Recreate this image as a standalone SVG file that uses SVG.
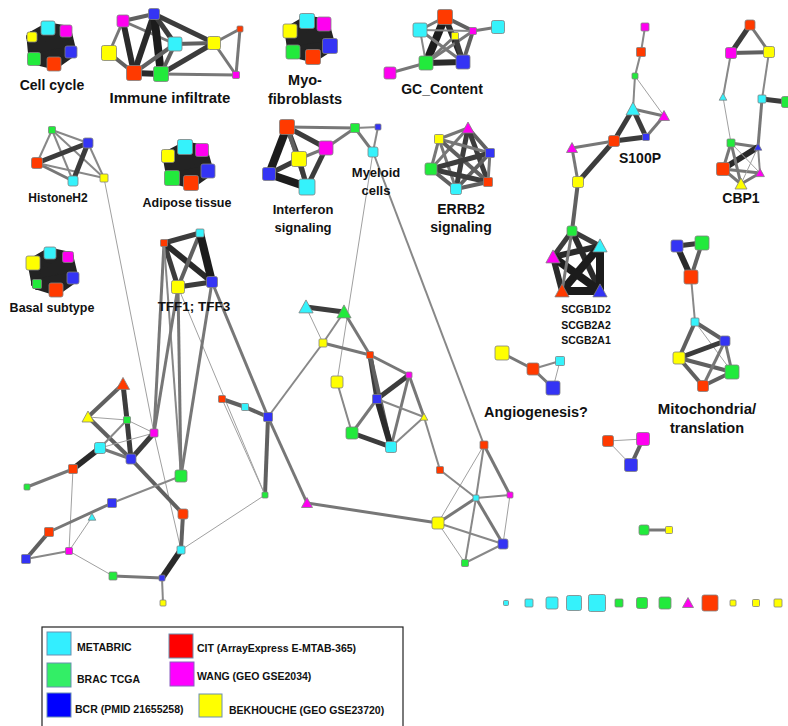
<svg xmlns="http://www.w3.org/2000/svg" width="788" height="726" viewBox="0 0 788 726">
<style>
.e1{stroke:#a0a0a0;stroke-width:1}
.e2{stroke:#888;stroke-width:2}
.e3{stroke:#777;stroke-width:3}
.e4{stroke:#606060;stroke-width:4}
.e5{stroke:#3c3c3c;stroke-width:5}
.e6{stroke:#2a2a2a;stroke-width:6}
.e8{stroke:#1c1c1c;stroke-width:8}
.bk{stroke:#232323;stroke-width:11;stroke-linecap:round}
.n{stroke:#808080;stroke-width:0.8}
.cy{fill:#35f2fb}.gr{fill:#22ea3c}.bl{fill:#3434f4}.rd{fill:#ff3a00}.mg{fill:#ff00f0}.ye{fill:#ffff00}
.lb{font-family:"Liberation Sans",Arial,sans-serif;font-weight:bold;fill:#111;text-anchor:middle}
.lg{font-family:"Liberation Sans",Arial,sans-serif;font-weight:bold;fill:#111;font-size:10.5px}
</style>
<rect width="788" height="726" fill="#fff"/>
<g id="connectors" fill="none">
<!-- cell cycle blob -->
<line class="bk" x1="32" y1="37" x2="48" y2="28"/><line class="bk" x1="32" y1="37" x2="66" y2="31"/><line class="bk" x1="32" y1="37" x2="71" y2="52"/><line class="bk" x1="32" y1="37" x2="54" y2="64"/><line class="bk" x1="32" y1="37" x2="34" y2="59"/>
<line class="bk" x1="48" y1="28" x2="66" y2="31"/><line class="bk" x1="48" y1="28" x2="71" y2="52"/><line class="bk" x1="48" y1="28" x2="54" y2="64"/><line class="bk" x1="48" y1="28" x2="34" y2="59"/>
<line class="bk" x1="66" y1="31" x2="71" y2="52"/><line class="bk" x1="66" y1="31" x2="54" y2="64"/><line class="bk" x1="66" y1="31" x2="34" y2="59"/>
<line class="bk" x1="71" y1="52" x2="54" y2="64"/><line class="bk" x1="71" y1="52" x2="34" y2="59"/><line class="bk" x1="54" y1="64" x2="34" y2="59"/>
<!-- immune -->
<line class="e4" x1="123" y1="21" x2="154" y2="14"/><line class="e3" x1="123" y1="21" x2="109" y2="53"/><line class="e6" x1="123" y1="21" x2="134" y2="73"/><line class="e3" x1="123" y1="21" x2="175" y2="44"/>
<line class="e6" x1="154" y1="14" x2="134" y2="73"/><line class="e8" x1="154" y1="14" x2="161" y2="74"/><line class="e5" x1="154" y1="14" x2="175" y2="44"/><line class="e5" x1="154" y1="14" x2="214" y2="43"/>
<line class="e4" x1="109" y1="53" x2="134" y2="73"/><line class="e6" x1="134" y1="73" x2="161" y2="74"/><line class="e4" x1="134" y1="73" x2="175" y2="44"/><line class="e4" x1="161" y1="74" x2="175" y2="44"/>
<line class="e4" x1="175" y1="44" x2="214" y2="43"/><line class="e5" x1="161" y1="74" x2="214" y2="43"/><line class="e3" x1="161" y1="74" x2="236" y2="75"/><line class="e3" x1="214" y1="43" x2="240" y2="29"/><line class="e3" x1="240" y1="29" x2="236" y2="75"/><line class="e3" x1="214" y1="43" x2="236" y2="75"/>
<!-- myo blob -->
<line class="bk" x1="290" y1="31" x2="307" y2="21"/><line class="bk" x1="290" y1="31" x2="324" y2="24"/><line class="bk" x1="290" y1="31" x2="330" y2="46"/><line class="bk" x1="290" y1="31" x2="313" y2="57"/><line class="bk" x1="290" y1="31" x2="293" y2="52"/>
<line class="bk" x1="307" y1="21" x2="324" y2="24"/><line class="bk" x1="307" y1="21" x2="330" y2="46"/><line class="bk" x1="307" y1="21" x2="313" y2="57"/><line class="bk" x1="307" y1="21" x2="293" y2="52"/>
<line class="bk" x1="324" y1="24" x2="330" y2="46"/><line class="bk" x1="324" y1="24" x2="313" y2="57"/><line class="bk" x1="324" y1="24" x2="293" y2="52"/>
<line class="bk" x1="330" y1="46" x2="313" y2="57"/><line class="bk" x1="330" y1="46" x2="293" y2="52"/><line class="bk" x1="313" y1="57" x2="293" y2="52"/>
<!-- GC content -->
<line class="e8" x1="445" y1="17" x2="426" y2="63"/><line class="e6" x1="445" y1="17" x2="463" y2="62"/><line class="e6" x1="426" y1="63" x2="463" y2="62"/><line class="e3" x1="445" y1="17" x2="420" y2="30"/><line class="e4" x1="445" y1="17" x2="473" y2="31"/>
<line class="e2" x1="420" y1="30" x2="426" y2="63"/><line class="e3" x1="420" y1="30" x2="463" y2="62"/><line class="e2" x1="420" y1="30" x2="473" y2="31"/><line class="e3" x1="426" y1="63" x2="473" y2="31"/><line class="e4" x1="463" y1="62" x2="473" y2="31"/>
<line class="e3" x1="455" y1="36" x2="426" y2="63"/><line class="e5" x1="455" y1="36" x2="463" y2="62"/><line class="e3" x1="473" y1="31" x2="498" y2="27"/><line class="e3" x1="390" y1="73" x2="426" y2="63"/>
<!-- S100P -->
<line class="e2" x1="645" y1="27" x2="641" y2="52"/><line class="e2" x1="641" y1="52" x2="635" y2="76"/><line class="e2" x1="635" y1="76" x2="633" y2="109"/><line class="e1" x1="635" y1="76" x2="664" y2="116"/>
<line class="e3" x1="633" y1="109" x2="664" y2="116"/><line class="e5" x1="633" y1="109" x2="646" y2="137"/><line class="e3" x1="664" y1="116" x2="646" y2="137"/><line class="e5" x1="633" y1="109" x2="614" y2="141"/>
<line class="e5" x1="614" y1="141" x2="646" y2="137"/><line class="e3" x1="614" y1="141" x2="572" y2="148"/><line class="e5" x1="614" y1="141" x2="578" y2="182"/><line class="e3" x1="572" y1="148" x2="578" y2="182"/><line class="e4" x1="578" y1="182" x2="572" y2="231"/>
<!-- CBP1 -->
<line class="e5" x1="750" y1="25" x2="731" y2="53"/><line class="e3" x1="750" y1="25" x2="769" y2="52"/><line class="e4" x1="731" y1="53" x2="769" y2="52"/><line class="e2" x1="731" y1="53" x2="723" y2="97"/><line class="e2" x1="769" y1="52" x2="762" y2="99"/>
<line class="e5" x1="762" y1="99" x2="787" y2="102"/><line class="e1" x1="723" y1="97" x2="731" y2="143"/><line class="e3" x1="762" y1="99" x2="758" y2="147"/><line class="e3" x1="731" y1="143" x2="758" y2="147"/><line class="e3" x1="731" y1="143" x2="723" y2="169"/>
<line class="e6" x1="758" y1="147" x2="723" y2="169"/><line class="e1" x1="731" y1="143" x2="760" y2="173"/><line class="e3" x1="731" y1="143" x2="741" y2="184"/><line class="e3" x1="723" y1="169" x2="760" y2="173"/><line class="e3" x1="723" y1="169" x2="741" y2="184"/>
<line class="e2" x1="758" y1="147" x2="760" y2="173"/><line class="e1" x1="758" y1="147" x2="741" y2="184"/><line class="e3" x1="760" y1="173" x2="741" y2="184"/>
<!-- HistoneH2 -->
<line class="e2" x1="52" y1="130" x2="88" y2="143"/><line class="e2" x1="52" y1="130" x2="37" y2="163"/><line class="e2" x1="52" y1="130" x2="73" y2="181"/><line class="e2" x1="52" y1="130" x2="104" y2="178"/>
<line class="e5" x1="37" y1="163" x2="88" y2="143"/><line class="e3" x1="37" y1="163" x2="73" y2="181"/><line class="e2" x1="37" y1="163" x2="104" y2="178"/><line class="e5" x1="88" y1="143" x2="73" y2="181"/><line class="e2" x1="88" y1="143" x2="104" y2="178"/>
<line class="e1" x1="104" y1="178" x2="154" y2="433"/>
<!-- adipose blob -->
<line class="bk" x1="168" y1="156" x2="185" y2="147"/><line class="bk" x1="168" y1="156" x2="202" y2="150"/><line class="bk" x1="168" y1="156" x2="208" y2="171"/><line class="bk" x1="168" y1="156" x2="191" y2="183"/><line class="bk" x1="168" y1="156" x2="172" y2="178"/>
<line class="bk" x1="185" y1="147" x2="202" y2="150"/><line class="bk" x1="185" y1="147" x2="208" y2="171"/><line class="bk" x1="185" y1="147" x2="191" y2="183"/><line class="bk" x1="185" y1="147" x2="172" y2="178"/>
<line class="bk" x1="202" y1="150" x2="208" y2="171"/><line class="bk" x1="202" y1="150" x2="191" y2="183"/><line class="bk" x1="202" y1="150" x2="172" y2="178"/>
<line class="bk" x1="208" y1="171" x2="191" y2="183"/><line class="bk" x1="208" y1="171" x2="172" y2="178"/><line class="bk" x1="191" y1="183" x2="172" y2="178"/>
<!-- basal blob -->
<line class="bk" x1="50" y1="253" x2="33" y2="263"/><line class="bk" x1="50" y1="253" x2="68" y2="257"/><line class="bk" x1="50" y1="253" x2="73" y2="278"/><line class="bk" x1="50" y1="253" x2="56" y2="290"/><line class="bk" x1="50" y1="253" x2="37" y2="284"/>
<line class="bk" x1="33" y1="263" x2="68" y2="257"/><line class="bk" x1="33" y1="263" x2="73" y2="278"/><line class="bk" x1="33" y1="263" x2="56" y2="290"/><line class="bk" x1="33" y1="263" x2="37" y2="284"/>
<line class="bk" x1="68" y1="257" x2="73" y2="278"/><line class="bk" x1="68" y1="257" x2="56" y2="290"/><line class="bk" x1="68" y1="257" x2="37" y2="284"/>
<line class="bk" x1="73" y1="278" x2="56" y2="290"/><line class="bk" x1="73" y1="278" x2="37" y2="284"/><line class="bk" x1="56" y1="290" x2="37" y2="284"/>
<!-- TFF -->
<line class="e5" x1="164" y1="243" x2="200" y2="233"/><line class="e5" x1="164" y1="243" x2="178" y2="287"/><line class="e6" x1="164" y1="243" x2="212" y2="282"/><line class="e4" x1="200" y1="233" x2="178" y2="287"/><line class="e8" x1="200" y1="233" x2="212" y2="282"/><line class="e5" x1="178" y1="287" x2="212" y2="282"/>
<line class="e3" x1="164" y1="243" x2="154" y2="433"/><line class="e2" x1="164" y1="243" x2="181" y2="476"/><line class="e3" x1="178" y1="287" x2="154" y2="433"/><line class="e3" x1="178" y1="287" x2="181" y2="476"/><line class="e1" x1="178" y1="287" x2="265" y2="495"/><line class="e3" x1="212" y1="282" x2="181" y2="476"/><line class="e3" x1="212" y1="282" x2="268" y2="417"/>
<!-- interferon / myeloid -->
<line class="e5" x1="287" y1="127" x2="299" y2="159"/><line class="e5" x1="287" y1="127" x2="326" y2="148"/><line class="e8" x1="287" y1="127" x2="269" y2="174"/><line class="e4" x1="287" y1="127" x2="307" y2="187"/>
<line class="e3" x1="299" y1="159" x2="326" y2="148"/><line class="e5" x1="299" y1="159" x2="269" y2="174"/><line class="e5" x1="299" y1="159" x2="307" y2="187"/><line class="e5" x1="326" y1="148" x2="307" y2="187"/><line class="e8" x1="269" y1="174" x2="307" y2="187"/>
<line class="e3" x1="287" y1="127" x2="355" y2="128"/><line class="e3" x1="326" y1="148" x2="355" y2="128"/><line class="e2" x1="355" y1="128" x2="378" y2="127"/><line class="e3" x1="355" y1="128" x2="373" y2="152"/><line class="e2" x1="378" y1="127" x2="373" y2="152"/>
<line class="e1" x1="373" y1="152" x2="337" y2="382"/><line class="e2" x1="373" y1="152" x2="484" y2="445"/>
<!-- ERRB2 -->
<line class="e3" x1="468" y1="128" x2="439" y2="139"/><line class="e4" x1="468" y1="128" x2="490" y2="153"/><line class="e3" x1="468" y1="128" x2="431" y2="169"/><line class="e5" x1="468" y1="128" x2="488" y2="182"/><line class="e5" x1="468" y1="128" x2="456" y2="189"/>
<line class="e3" x1="439" y1="139" x2="490" y2="153"/><line class="e3" x1="439" y1="139" x2="431" y2="169"/><line class="e4" x1="439" y1="139" x2="488" y2="182"/><line class="e3" x1="439" y1="139" x2="456" y2="189"/>
<line class="e5" x1="490" y1="153" x2="431" y2="169"/><line class="e3" x1="490" y1="153" x2="488" y2="182"/><line class="e4" x1="490" y1="153" x2="456" y2="189"/><line class="e5" x1="431" y1="169" x2="488" y2="182"/><line class="e4" x1="431" y1="169" x2="456" y2="189"/><line class="e4" x1="488" y1="182" x2="456" y2="189"/>
<!-- SCGB -->
<line class="e5" x1="572" y1="231" x2="600" y2="246"/><line class="e5" x1="572" y1="231" x2="553" y2="257"/><line class="e6" x1="572" y1="231" x2="600" y2="291"/><line class="e6" x1="600" y1="246" x2="553" y2="257"/>
<line class="e8" x1="600" y1="246" x2="562" y2="291"/><line class="e8" x1="600" y1="246" x2="600" y2="291"/><line class="e6" x1="553" y1="257" x2="562" y2="291"/><line class="e8" x1="553" y1="257" x2="600" y2="291"/><line class="e8" x1="562" y1="291" x2="600" y2="291"/>
<line class="e3" x1="572" y1="231" x2="562" y2="291"/>
<!-- mito -->
<line class="e5" x1="677" y1="246" x2="702" y2="243"/><line class="e6" x1="677" y1="246" x2="691" y2="277"/><line class="e4" x1="702" y1="243" x2="691" y2="277"/><line class="e2" x1="691" y1="277" x2="695" y2="322"/>
<line class="e4" x1="695" y1="322" x2="725" y2="341"/><line class="e4" x1="695" y1="322" x2="679" y2="358"/><line class="e1" x1="695" y1="322" x2="732" y2="372"/><line class="e5" x1="679" y1="358" x2="725" y2="341"/><line class="e4" x1="679" y1="358" x2="732" y2="372"/>
<line class="e4" x1="679" y1="358" x2="703" y2="386"/><line class="e3" x1="725" y1="341" x2="703" y2="386"/><line class="e3" x1="725" y1="341" x2="732" y2="372"/><line class="e4" x1="732" y1="372" x2="703" y2="386"/>
<!-- angiogenesis -->
<line class="e3" x1="502" y1="353" x2="533" y2="369"/><line class="e2" x1="533" y1="369" x2="560" y2="361"/><line class="e3" x1="533" y1="369" x2="553" y2="388"/><line class="e1" x1="560" y1="361" x2="553" y2="388"/>
<!-- triad / pair -->
<line class="e1" x1="608" y1="441" x2="643" y2="439"/><line class="e1" x1="608" y1="441" x2="631" y2="465"/><line class="e4" x1="643" y1="439" x2="631" y2="465"/>
<line class="e3" x1="644" y1="530" x2="669" y2="530"/>
<!-- middle -->
<line class="e5" x1="306" y1="307" x2="344" y2="312"/><line class="e1" x1="306" y1="307" x2="323" y2="343"/><line class="e2" x1="344" y1="312" x2="323" y2="343"/><line class="e3" x1="344" y1="312" x2="370" y2="355"/><line class="e3" x1="323" y1="343" x2="370" y2="355"/>
<line class="e3" x1="370" y1="355" x2="409" y2="375"/><line class="e5" x1="370" y1="355" x2="377" y2="399"/><line class="e4" x1="370" y1="355" x2="391" y2="447"/><line class="e5" x1="409" y1="375" x2="377" y2="399"/><line class="e3" x1="409" y1="375" x2="391" y2="447"/>
<line class="e3" x1="409" y1="375" x2="424" y2="417"/><line class="e2" x1="377" y1="399" x2="424" y2="417"/><line class="e3" x1="377" y1="399" x2="352" y2="433"/><line class="e6" x1="377" y1="399" x2="391" y2="447"/><line class="e5" x1="352" y1="433" x2="391" y2="447"/>
<line class="e2" x1="337" y1="382" x2="352" y2="433"/><line class="e2" x1="391" y1="447" x2="424" y2="417"/><line class="e2" x1="424" y1="417" x2="440" y2="470"/>
<line class="e2" x1="323" y1="343" x2="268" y2="417"/><line class="e3" x1="307" y1="503" x2="268" y2="417"/><line class="e3" x1="307" y1="503" x2="438" y2="523"/>
<!-- bottom right -->
<line class="e2" x1="484" y1="445" x2="476" y2="498"/><line class="e3" x1="484" y1="445" x2="510" y2="495"/><line class="e1" x1="484" y1="445" x2="438" y2="523"/><line class="e2" x1="476" y1="498" x2="510" y2="495"/>
<line class="e3" x1="476" y1="498" x2="438" y2="523"/><line class="e3" x1="476" y1="498" x2="503" y2="544"/><line class="e2" x1="476" y1="498" x2="465" y2="563"/><line class="e2" x1="476" y1="498" x2="440" y2="470"/>
<line class="e2" x1="438" y1="523" x2="503" y2="544"/><line class="e1" x1="438" y1="523" x2="465" y2="563"/><line class="e2" x1="503" y1="544" x2="465" y2="563"/><line class="e1" x1="510" y1="495" x2="503" y2="544"/>
<!-- bottom left -->
<line class="e4" x1="123" y1="384" x2="88" y2="417"/><line class="e5" x1="123" y1="384" x2="127" y2="420"/><line class="e5" x1="127" y1="420" x2="131" y2="459"/><line class="e1" x1="88" y1="417" x2="127" y2="420"/><line class="e4" x1="88" y1="417" x2="131" y2="459"/>
<line class="e1" x1="127" y1="420" x2="154" y2="433"/><line class="e2" x1="127" y1="420" x2="100" y2="448"/><line class="e1" x1="100" y1="448" x2="154" y2="433"/><line class="e3" x1="100" y1="448" x2="131" y2="459"/><line class="e6" x1="100" y1="448" x2="73" y2="469"/>
<line class="e3" x1="73" y1="469" x2="27" y2="487"/><line class="e1" x1="73" y1="469" x2="69" y2="551"/><line class="e5" x1="154" y1="433" x2="131" y2="459"/><line class="e1" x1="154" y1="433" x2="181" y2="550"/>
<line class="e4" x1="131" y1="459" x2="183" y2="514"/><line class="e4" x1="183" y1="514" x2="181" y2="550"/><line class="e6" x1="181" y1="550" x2="162" y2="578"/><line class="e2" x1="162" y1="578" x2="163" y2="603"/><line class="e3" x1="162" y1="578" x2="113" y2="576"/>
<line class="e1" x1="113" y1="576" x2="69" y2="551"/><line class="e2" x1="69" y1="551" x2="26" y2="559"/><line class="e4" x1="26" y1="559" x2="49" y2="532"/><line class="e3" x1="49" y1="532" x2="112" y2="503"/><line class="e2" x1="112" y1="503" x2="181" y2="476"/>
<line class="e1" x1="92" y1="517" x2="69" y2="551"/><line class="e1" x1="181" y1="550" x2="265" y2="495"/><line class="e4" x1="222" y1="399" x2="245" y2="407"/><line class="e4" x1="245" y1="407" x2="268" y2="417"/><line class="e4" x1="268" y1="417" x2="265" y2="495"/><line class="e1" x1="222" y1="399" x2="265" y2="495"/>
</g>
<g id="nodes">
<g id="cc1"><rect class="n ye" x="27" y="32" width="10" height="10" rx="2"/></g>
<g id="cc2"><rect class="n cy" x="41" y="21" width="14" height="14" rx="2"/></g>
<g id="cc3"><rect class="n mg" x="60" y="25" width="12" height="12" rx="2"/></g>
<g id="cc4"><rect class="n bl" x="65" y="46" width="12" height="12" rx="2"/></g>
<g id="cc5"><rect class="n rd" x="47" y="57" width="14" height="14" rx="2"/></g>
<g id="cc6"><rect class="n gr" x="27.5" y="52.5" width="13" height="13" rx="2"/></g>
<g id="im1"><rect class="n mg" x="117" y="15" width="12" height="12" rx="2"/></g>
<g id="im2"><rect class="n bl" x="148.5" y="8.5" width="11" height="11" rx="2"/></g>
<g id="im3"><rect class="n cy" x="168" y="37" width="14" height="14" rx="2"/></g>
<g id="im4"><rect class="n ye" x="101.5" y="45.5" width="15" height="15" rx="2"/></g>
<g id="im5"><rect class="n rd" x="126.5" y="65.5" width="15" height="15" rx="2"/></g>
<g id="im6"><rect class="n gr" x="153.5" y="66.5" width="15" height="15" rx="2"/></g>
<g id="im7"><rect class="n ye" x="207.5" y="36.5" width="13" height="13" rx="2"/></g>
<g id="im8"><rect class="n rd" x="237" y="26" width="6" height="6" rx="1"/></g>
<g id="im9"><rect class="n mg" x="232.5" y="71.5" width="7" height="7" rx="1"/></g>
<g id="my1"><rect class="n ye" x="283" y="24" width="14" height="14" rx="2"/></g>
<g id="my2"><rect class="n cy" x="299.5" y="13.5" width="15" height="15" rx="2"/></g>
<g id="my3"><rect class="n mg" x="317" y="17" width="14" height="14" rx="2"/></g>
<g id="my4"><rect class="n bl" x="322.5" y="38.5" width="15" height="15" rx="2"/></g>
<g id="my5"><rect class="n rd" x="305.5" y="49.5" width="15" height="15" rx="2"/></g>
<g id="my6"><rect class="n gr" x="286" y="45" width="14" height="14" rx="2"/></g>
<g id="gc1"><rect class="n rd" x="437.5" y="9.5" width="15" height="15" rx="2"/></g>
<g id="gc2"><rect class="n cy" x="413" y="23" width="14" height="14" rx="2"/></g>
<g id="gc3"><rect class="n ye" x="451.5" y="32.5" width="7" height="7" rx="1"/></g>
<g id="gc4"><rect class="n mg" x="469.5" y="27.5" width="7" height="7" rx="1"/></g>
<g id="gc5"><rect class="n cy" x="491.5" y="20.5" width="13" height="13" rx="2"/></g>
<g id="gc6"><rect class="n gr" x="419" y="56" width="14" height="14" rx="2"/></g>
<g id="gc7"><rect class="n bl" x="456" y="55" width="14" height="14" rx="2"/></g>
<g id="gc8"><rect class="n mg" x="384" y="67" width="12" height="12" rx="2"/></g>
<g id="sp1"><rect class="n mg" x="641" y="23" width="8" height="8" rx="1"/></g>
<g id="sp2"><rect class="n rd" x="636.5" y="47.5" width="9" height="9" rx="1"/></g>
<g id="sp3"><rect class="n gr" x="632" y="73" width="6" height="6" rx="1"/></g>
<g id="sp4"><polygon class="n cy" points="633,102 626,115 640,115"/></g>
<g id="sp5"><polygon class="n mg" points="664,110.5 658.5,120.5 669.5,120.5"/></g>
<g id="sp6"><rect class="n bl" x="642.5" y="133.5" width="7" height="7" rx="1"/></g>
<g id="sp7"><rect class="n rd" x="608.5" y="135.5" width="11" height="11" rx="2"/></g>
<g id="sp8"><polygon class="n mg" points="572,142.5 566.5,152.5 577.5,152.5"/></g>
<g id="sp9"><rect class="n ye" x="572.5" y="176.5" width="11" height="11" rx="2"/></g>
<g id="cb1"><rect class="n rd" x="745" y="20" width="10" height="10" rx="2"/></g>
<g id="cb2"><rect class="n mg" x="725.5" y="47.5" width="11" height="11" rx="2"/></g>
<g id="cb3"><rect class="n ye" x="763.5" y="46.5" width="11" height="11" rx="2"/></g>
<g id="cb4"><polygon class="n cy" points="723,93.2 719.2,100.2 726.8,100.2"/></g>
<g id="cb5"><rect class="n cy" x="758" y="95" width="8" height="8" rx="1"/></g>
<g id="cb6"><rect class="n gr" x="781.5" y="96.5" width="11" height="11" rx="2"/></g>
<g id="cb7"><rect class="n gr" x="727" y="139" width="8" height="8" rx="1"/></g>
<g id="cb8"><polygon class="n bl" points="758,143.2 754.2,150.2 761.8,150.2"/></g>
<g id="cb9"><rect class="n rd" x="716.5" y="162.5" width="13" height="13" rx="2"/></g>
<g id="cb10"><polygon class="n mg" points="760,168.6 755.6,176.6 764.4,176.6"/></g>
<g id="cb11"><polygon class="n ye" points="741,178 735,189 747,189"/></g>
<g id="hh1"><rect class="n gr" x="48.5" y="126.5" width="7" height="7" rx="1"/></g>
<g id="hh2"><rect class="n bl" x="83" y="138" width="10" height="10" rx="2"/></g>
<g id="hh3"><rect class="n rd" x="31.5" y="157.5" width="11" height="11" rx="2"/></g>
<g id="hh4"><rect class="n cy" x="68" y="176" width="10" height="10" rx="2"/></g>
<g id="hh5"><rect class="n ye" x="100" y="174" width="8" height="8" rx="1"/></g>
<g id="ad1"><rect class="n ye" x="161.5" y="149.5" width="13" height="13" rx="2"/></g>
<g id="ad2"><rect class="n cy" x="177.5" y="139.5" width="15" height="15" rx="2"/></g>
<g id="ad3"><rect class="n mg" x="195.5" y="143.5" width="13" height="13" rx="2"/></g>
<g id="ad4"><rect class="n bl" x="201" y="164" width="14" height="14" rx="2"/></g>
<g id="ad5"><rect class="n rd" x="183.5" y="175.5" width="15" height="15" rx="2"/></g>
<g id="ad6"><rect class="n gr" x="164.5" y="170.5" width="15" height="15" rx="2"/></g>
<g id="bs1"><rect class="n cy" x="44" y="247" width="12" height="12" rx="2"/></g>
<g id="bs2"><rect class="n ye" x="26" y="256" width="14" height="14" rx="2"/></g>
<g id="bs3"><rect class="n mg" x="62.5" y="251.5" width="11" height="11" rx="2"/></g>
<g id="bs4"><rect class="n bl" x="67" y="272" width="12" height="12" rx="2"/></g>
<g id="bs5"><rect class="n rd" x="49" y="283" width="14" height="14" rx="2"/></g>
<g id="bs6"><rect class="n gr" x="32.5" y="279.5" width="9" height="9" rx="1"/></g>
<g id="tf1"><rect class="n rd" x="160.5" y="239.5" width="7" height="7" rx="1"/></g>
<g id="tf2"><rect class="n cy" x="196" y="229" width="8" height="8" rx="1"/></g>
<g id="tf3"><rect class="n ye" x="171.5" y="280.5" width="13" height="13" rx="2"/></g>
<g id="tf4"><rect class="n bl" x="206.5" y="276.5" width="11" height="11" rx="2"/></g>
<g id="if1"><rect class="n rd" x="279.5" y="119.5" width="15" height="15" rx="2"/></g>
<g id="if2"><rect class="n mg" x="319" y="141" width="14" height="14" rx="2"/></g>
<g id="if3"><rect class="n ye" x="291.5" y="151.5" width="15" height="15" rx="2"/></g>
<g id="if4"><rect class="n bl" x="262.5" y="167.5" width="13" height="13" rx="2"/></g>
<g id="if5"><rect class="n cy" x="299" y="179" width="16" height="16" rx="2"/></g>
<g id="ml1"><rect class="n gr" x="350.5" y="123.5" width="9" height="9" rx="1"/></g>
<g id="ml2"><rect class="n bl" x="375" y="124" width="6" height="6" rx="1"/></g>
<g id="ml3"><rect class="n cy" x="368" y="147" width="10" height="10" rx="2"/></g>
<g id="er1"><polygon class="n mg" points="468,122 462,133 474,133"/></g>
<g id="er2"><rect class="n ye" x="434.5" y="134.5" width="9" height="9" rx="1"/></g>
<g id="er3"><rect class="n bl" x="485.5" y="148.5" width="9" height="9" rx="1"/></g>
<g id="er4"><rect class="n gr" x="425" y="163" width="12" height="12" rx="2"/></g>
<g id="er5"><rect class="n rd" x="483.5" y="177.5" width="9" height="9" rx="1"/></g>
<g id="er6"><rect class="n cy" x="450.5" y="183.5" width="11" height="11" rx="2"/></g>
<g id="sc1"><rect class="n gr" x="567" y="226" width="10" height="10" rx="2"/></g>
<g id="sc2"><polygon class="n cy" points="600,238.9 592.9,251.9 607.1,251.9"/></g>
<g id="sc3"><polygon class="n mg" points="553,249.9 545.9,262.9 560.1,262.9"/></g>
<g id="sc4"><polygon class="n rd" points="562,283.9 554.9,296.9 569.1,296.9"/></g>
<g id="sc5"><polygon class="n bl" points="600,283.9 592.9,296.9 607.1,296.9"/></g>
<g id="mt1"><rect class="n bl" x="671" y="240" width="12" height="12" rx="2"/></g>
<g id="mt2"><rect class="n gr" x="695" y="236" width="14" height="14" rx="2"/></g>
<g id="mt3"><rect class="n rd" x="684" y="270" width="14" height="14" rx="2"/></g>
<g id="mt4"><rect class="n cy" x="691" y="318" width="8" height="8" rx="1"/></g>
<g id="mt5"><rect class="n bl" x="720" y="336" width="10" height="10" rx="2"/></g>
<g id="mt6"><rect class="n ye" x="673" y="352" width="12" height="12" rx="2"/></g>
<g id="mt7"><rect class="n gr" x="725" y="365" width="14" height="14" rx="2"/></g>
<g id="mt8"><rect class="n rd" x="697.5" y="380.5" width="11" height="11" rx="2"/></g>
<g id="an1"><rect class="n ye" x="495" y="346" width="14" height="14" rx="2"/></g>
<g id="an2"><rect class="n rd" x="527" y="363" width="12" height="12" rx="2"/></g>
<g id="an3"><rect class="n cy" x="555.5" y="356.5" width="9" height="9" rx="1"/></g>
<g id="an4"><rect class="n bl" x="546" y="381" width="14" height="14" rx="2"/></g>
<g id="tr1"><rect class="n rd" x="602.5" y="435.5" width="11" height="11" rx="2"/></g>
<g id="tr2"><rect class="n mg" x="636.5" y="432.5" width="13" height="13" rx="2"/></g>
<g id="tr3"><rect class="n bl" x="624.5" y="458.5" width="13" height="13" rx="2"/></g>
<g id="pr1"><rect class="n gr" x="639" y="525" width="10" height="10" rx="2"/></g>
<g id="pr2"><rect class="n ye" x="665.5" y="526.5" width="7" height="7" rx="1"/></g>
<g id="md1"><polygon class="n cy" points="306,299.9 298.9,312.9 313.1,312.9"/></g>
<g id="md2"><polygon class="n gr" points="344,304.9 336.9,317.9 351.1,317.9"/></g>
<g id="md3"><rect class="n ye" x="319" y="339" width="8" height="8" rx="1"/></g>
<g id="md4"><rect class="n rd" x="366.5" y="351.5" width="7" height="7" rx="1"/></g>
<g id="md5"><rect class="n mg" x="406" y="372" width="6" height="6" rx="1"/></g>
<g id="md6"><rect class="n ye" x="331" y="376" width="12" height="12" rx="2"/></g>
<g id="md7"><rect class="n bl" x="372.5" y="394.5" width="9" height="9" rx="1"/></g>
<g id="md8"><polygon class="n ye" points="424,413.2 420.2,420.2 427.8,420.2"/></g>
<g id="md9"><rect class="n gr" x="346" y="427" width="12" height="12" rx="2"/></g>
<g id="md10"><rect class="n cy" x="385.5" y="441.5" width="11" height="11" rx="2"/></g>
<g id="md11"><rect class="n rd" x="436.5" y="466.5" width="7" height="7" rx="1"/></g>
<g id="md12"><polygon class="n mg" points="307,497.5 301.5,507.5 312.5,507.5"/></g>
<g id="br1"><rect class="n rd" x="480" y="441" width="8" height="8" rx="1"/></g>
<g id="br2"><rect class="n cy" x="473" y="495" width="6" height="6" rx="1"/></g>
<g id="br3"><rect class="n mg" x="507" y="492" width="6" height="6" rx="1"/></g>
<g id="br4"><rect class="n ye" x="432" y="517" width="12" height="12" rx="2"/></g>
<g id="br5"><rect class="n bl" x="498" y="539" width="10" height="10" rx="2"/></g>
<g id="br6"><rect class="n gr" x="461.5" y="559.5" width="7" height="7" rx="1"/></g>
<g id="bl1"><polygon class="n rd" points="123,377.4 116.4,389.4 129.6,389.4"/></g>
<g id="bl2"><polygon class="n ye" points="88,411 82,422 94,422"/></g>
<g id="bl3"><rect class="n gr" x="123.5" y="416.5" width="7" height="7" rx="1"/></g>
<g id="bl4"><rect class="n mg" x="150" y="429" width="8" height="8" rx="1"/></g>
<g id="bl5"><rect class="n cy" x="94.5" y="442.5" width="11" height="11" rx="2"/></g>
<g id="bl6"><rect class="n bl" x="126" y="454" width="10" height="10" rx="2"/></g>
<g id="bl7"><rect class="n rd" x="68.5" y="464.5" width="9" height="9" rx="1"/></g>
<g id="bl8"><rect class="n gr" x="24" y="484" width="6" height="6" rx="1"/></g>
<g id="bl9"><rect class="n gr" x="175" y="470" width="12" height="12" rx="2"/></g>
<g id="bl10"><rect class="n bl" x="107.5" y="498.5" width="9" height="9" rx="1"/></g>
<g id="bl11"><polygon class="n cy" points="92,513.2 88.2,520.2 95.8,520.2"/></g>
<g id="bl12"><rect class="n rd" x="44.5" y="527.5" width="9" height="9" rx="1"/></g>
<g id="bl13"><rect class="n bl" x="21.5" y="554.5" width="9" height="9" rx="1"/></g>
<g id="bl14"><rect class="n mg" x="65.5" y="547.5" width="7" height="7" rx="1"/></g>
<g id="bl15"><rect class="n gr" x="109" y="572" width="8" height="8" rx="1"/></g>
<g id="bl16"><rect class="n bl" x="159" y="575" width="6" height="6" rx="1"/></g>
<g id="bl17"><rect class="n ye" x="160" y="600" width="6" height="6" rx="1"/></g>
<g id="bl18"><rect class="n rd" x="178" y="509" width="10" height="10" rx="2"/></g>
<g id="bl19"><rect class="n cy" x="177" y="546" width="8" height="8" rx="1"/></g>
<g id="bl20"><rect class="n rd" x="218.5" y="395.5" width="7" height="7" rx="1"/></g>
<g id="bl21"><rect class="n cy" x="241.5" y="403.5" width="7" height="7" rx="1"/></g>
<g id="bl22"><rect class="n bl" x="263.5" y="412.5" width="9" height="9" rx="1"/></g>
<g id="bl23"><rect class="n gr" x="262" y="492" width="6" height="6" rx="1"/></g>
<g id="sz1"><rect class="n cy" x="503.5" y="600.5" width="5" height="5" rx="1"/></g>
<g id="sz2"><rect class="n cy" x="525" y="599" width="8" height="8" rx="1"/></g>
<g id="sz3"><rect class="n cy" x="546" y="597" width="12" height="12" rx="2"/></g>
<g id="sz4"><rect class="n cy" x="566.5" y="595.5" width="15" height="15" rx="2"/></g>
<g id="sz5"><rect class="n cy" x="588.5" y="594.5" width="17" height="17" rx="2"/></g>
<g id="sz6"><rect class="n gr" x="615" y="599" width="8" height="8" rx="1"/></g>
<g id="sz7"><rect class="n gr" x="636.5" y="597.5" width="11" height="11" rx="2"/></g>
<g id="sz8"><rect class="n gr" x="659" y="597" width="12" height="12" rx="2"/></g>
<g id="sz9"><polygon class="n mg" points="688,597.5 682.5,607.5 693.5,607.5"/></g>
<g id="sz10"><rect class="n rd" x="702" y="595" width="16" height="16" rx="2"/></g>
<g id="sz11"><rect class="n ye" x="730" y="600" width="6" height="6" rx="1"/></g>
<g id="sz12"><rect class="n ye" x="752.5" y="599.5" width="7" height="7" rx="1"/></g>
<g id="sz13"><rect class="n ye" x="774" y="599" width="8" height="8" rx="1"/></g>
</g>
<g id="labels">
<text class="lb" x="52" y="90" font-size="14">Cell cycle</text>
<text class="lb" x="170" y="103" font-size="15">Immune infiltrate</text>
<text class="lb" x="305" y="85" font-size="14.5">Myo-</text>
<text class="lb" x="305" y="104" font-size="14.5">fibroblasts</text>
<text class="lb" x="442" y="94" font-size="14">GC_Content</text>
<text class="lb" x="58" y="202" font-size="12">HistoneH2</text>
<text class="lb" x="187" y="207" font-size="12.5">Adipose tissue</text>
<text class="lb" x="52" y="312" font-size="12.5">Basal subtype</text>
<text class="lb" x="194" y="311" font-size="13.5">TFF1; TFF3</text>
<text class="lb" x="303" y="213.5" font-size="13">Interferon</text>
<text class="lb" x="303" y="231.5" font-size="13">signaling</text>
<text class="lb" x="376" y="176.5" font-size="13">Myeloid</text>
<text class="lb" x="376" y="194.5" font-size="13">cells</text>
<text class="lb" x="461" y="214" font-size="14">ERRB2</text>
<text class="lb" x="461" y="232" font-size="14">signaling</text>
<text class="lb" x="640" y="163" font-size="14">S100P</text>
<text class="lb" x="741" y="203" font-size="14">CBP1</text>
<text class="lb" x="586" y="313" font-size="10.5">SCGB1D2</text>
<text class="lb" x="586" y="329" font-size="10.5">SCGB2A2</text>
<text class="lb" x="586" y="344" font-size="10.5">SCGB2A1</text>
<text class="lb" x="536" y="417" font-size="14.5">Angiogenesis?</text>
<text class="lb" x="707" y="414" font-size="15">Mitochondria/</text>
<text class="lb" x="707" y="433" font-size="14.5">translation</text>
</g>
<g id="legend">
<rect x="42" y="627" width="361" height="110" fill="#fff" stroke="#222" stroke-width="1.2"/>
<rect x="47" y="632" width="24" height="23" fill="#33eeff" stroke="#6a8fb0" stroke-width="1"/>
<rect x="47" y="663" width="24" height="24" fill="#33ee66" stroke="#6a8fb0" stroke-width="1"/>
<rect x="47" y="693" width="24" height="24" fill="#0000ff" stroke="#6a8fb0" stroke-width="1"/>
<rect x="169" y="634" width="24" height="24" fill="#ff0000" stroke="#6a8fb0" stroke-width="1"/>
<rect x="170" y="662" width="24" height="24" fill="#ff00ff" stroke="#8a5fc0" stroke-width="1"/>
<rect x="199" y="694" width="23" height="23" fill="#ffff00" stroke="#6a8fb0" stroke-width="1"/>
<text class="lg" x="77" y="651">METABRIC</text>
<text class="lg" x="77" y="683">BRAC TCGA</text>
<text class="lg" x="75" y="713">BCR (PMID 21655258)</text>
<text class="lg" x="197" y="652">CIT (ArrayExpress E-MTAB-365)</text>
<text class="lg" x="197" y="680">WANG (GEO GSE2034)</text>
<text class="lg" x="229" y="714">BEKHOUCHE (GEO GSE23720)</text>
</g>
</svg>
